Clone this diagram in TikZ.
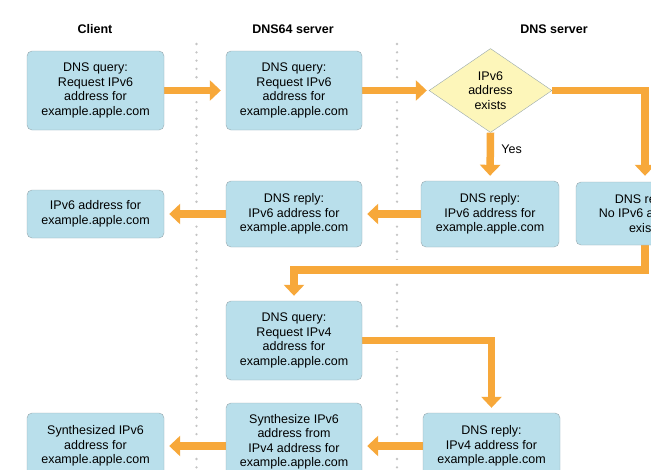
\documentclass[tikz,border=0pt]{standalone}
\usepackage{fontspec}
\setmainfont{Liberation Sans}
\usetikzlibrary{arrows.meta,positioning,shapes.geometric}
\definecolor{boxblue}{HTML}{B9DFEB}
\definecolor{boxline}{HTML}{98A8AE}
\definecolor{decyellow}{HTML}{FDF6BA}
\definecolor{flowort}{HTML}{F7A83A}
\definecolor{sepgray}{HTML}{C4C4C4}
\pgfdeclarelayer{background}
\pgfsetlayers{background,main}
\tikzset{
  msgbox/.style={draw=boxline, fill=boxblue, rounded corners=5pt, align=center,
    minimum width=137pt, inner sep=2pt, font=\fontsize{12.5}{14.5}\selectfont},
  decision/.style={diamond, draw=boxline, fill=decyellow, align=center, aspect=1.46,
    minimum width=123pt, minimum height=84pt, inner sep=0pt,
    font=\fontsize{12.5}{14.5}\selectfont},
  colhead/.style={font=\fontsize{12.5}{14.5}\selectfont\bfseries},
  flow/.style={draw=flowort, line width=7.5pt, -{Triangle[width=20pt,length=11pt]},
    preaction={draw=white, line width=20pt, -}, shorten >=5pt},
  sepline/.style={draw=sepgray, line width=2.6pt, line cap=round, dash pattern=on 0pt off 8.3pt}
}
\begin{document}
\begin{tikzpicture}[x=1pt,y=-1pt]
  \useasboundingbox (0,0) rectangle (651,469);

  % column titles
  \node[colhead] (hclient) at (95,29) {Client};
  \node[colhead] (hdns64) at (293,29) {DNS64 server};
  \node[colhead] (hdns) at (554,29) {DNS server};

  % first round: IPv6
  \node[msgbox, minimum height=79pt] (q6client) at (95.5,90.5) {DNS query:\\Request IPv6\\address for\\example.apple.com};
  \node[msgbox, minimum height=79pt, minimum width=136pt] (q6dns64) at (294,90.5) {DNS query:\\Request IPv6\\address for\\example.apple.com};
  \node[decision] (exists) at (490.5,90.5) {IPv6\\address\\exists};
  \node[msgbox, minimum height=48pt] (r6client) at (95.5,214) {IPv6 address for\\example.apple.com};
  \node[msgbox, minimum height=66pt, minimum width=136pt] (r6dns64) at (294,214) {DNS reply:\\IPv6 address for\\example.apple.com};
  \node[msgbox, minimum height=66pt, minimum width=138pt] (r6dns) at (490,214) {DNS reply:\\IPv6 address for\\example.apple.com};
  \node[msgbox, minimum height=63pt, minimum width=138pt] (nov6) at (645,213.5) {DNS reply:\\No IPv6 address\\exists};

  % second round: IPv4
  \node[msgbox, minimum height=79pt, minimum width=136pt] (q4dns64) at (294,340.5) {DNS query:\\Request IPv4\\address for\\example.apple.com};
  \node[msgbox, minimum height=66pt] (synclient) at (95.5,446) {Synthesized IPv6\\address for\\example.apple.com};
  \node[msgbox, minimum height=78pt, minimum width=136pt] (syndns64) at (294,442) {Synthesize IPv6\\address from\\IPv4 address for\\example.apple.com};
  \node[msgbox, minimum height=66pt] (r4dns) at (491.5,446) {DNS reply:\\IPv4 address for\\example.apple.com};

  \begin{pgfonlayer}{background}
    \draw[sepline] (196.5,44) -- (196.5,469);
    \draw[sepline] (397,44) -- (397,469);

    \draw[flow] (q6client.east) -- (q6dns64.west);
    \draw[flow, shorten >=2pt] (q6dns64.east) -- (exists.west);
    \draw[flow] (exists.south) -- node[right=4pt, font=\fontsize{12.5}{14.5}\selectfont, pos=0.35] {Yes} (r6dns.north);
    \draw[flow, shorten >=6pt] (exists.east) -| (nov6.north);
    \draw[flow] (r6dns.west) -- (r6dns64.east);
    \draw[flow] (r6dns64.west) -- (r6client.east);
    \draw[flow] (nov6.south) -- ++(0,25) -| (q4dns64.north);
    \draw[flow] (q4dns64.east) -| (r4dns.north);
    \draw[flow] (r4dns.west) -- (r4dns.west -| syndns64.east);
    \draw[flow] (syndns64.west |- synclient) -- (synclient.east);
  \end{pgfonlayer}
\end{tikzpicture}
\end{document}
